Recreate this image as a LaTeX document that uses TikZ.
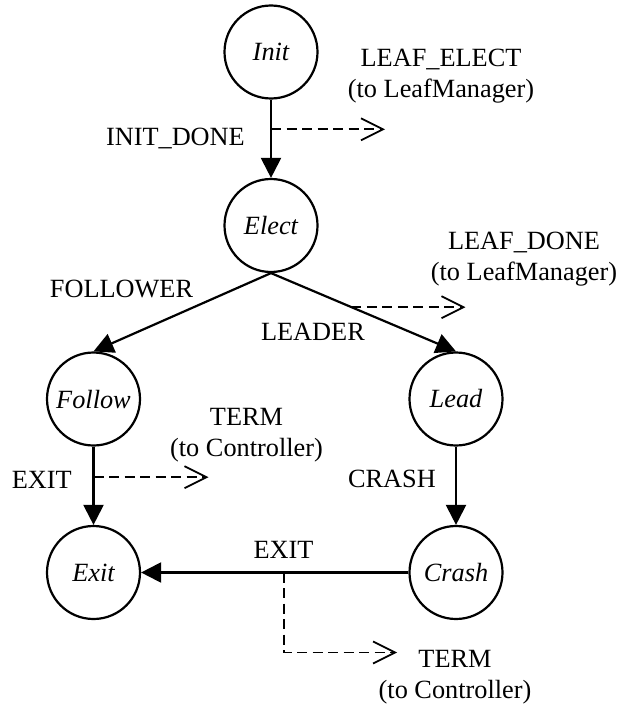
\documentclass[tikz,border=0pt]{standalone}
\usepackage{fontspec}
\setmainfont{Liberation Serif}
\usetikzlibrary{arrows.meta}
\begin{document}
\begin{tikzpicture}[x=1pt,y=-1pt,
  txt/.style={inner sep=0pt, font=\fontsize{26.3}{31}\selectfont},
  state/.style={draw, circle, line width=2.2pt, minimum size=93pt, inner sep=0pt,
                font=\fontsize{26.3}{31}\selectfont\itshape},
  trans/.style={line width=2.2pt, -{Triangle[length=20pt,width=20pt]}},
  notify/.style={line width=1.8pt, dash pattern=on 10pt off 5.5pt,
                 -{Straight Barb[length=22pt,width=22pt]}}]
\useasboundingbox (0,0) rectangle (621,706);

% states
\node[state] (init)   at (271,52)     {Init};
\node[state] (elect)  at (271,225.5)  {Elect};
\node[state] (follow) at (93.5,399)   {Follow};
\node[state] (lead)   at (456,399)    {Lead};
\node[state] (exit)   at (93.5,572.5) {Exit};
\node[state] (crash)  at (456,572.5)  {Crash};

% transitions
\draw[trans] (init) -- coordinate[pos=0.379] (tapA) (elect);
\draw[trans] (elect.south) -- (follow.north);
\draw[trans] (elect.south) -- coordinate[pos=0.435] (tapB) (lead.north);
\draw[trans] (follow) -- coordinate[pos=0.39] (tapC) (exit);
\draw[trans] (lead) -- (crash);
\draw[trans] (crash) -- coordinate[pos=0.465] (tapD) (exit);

% messages sent to other components
\draw[notify] (tapA) -- ++(114,0) coordinate (sinkA);
\draw[notify] (tapB) -- ++(114,0) coordinate (sinkB);
\draw[notify] (tapC) -- ++(115,0) coordinate (sinkC);
\draw[notify] (tapD) |- ++(113,80) coordinate (sinkD);

% transition labels
\node[txt, anchor=base east] (lInitDone) at (245,145) {INIT\_DONE};
\node[txt, anchor=base] (lFollower) at (121.5,297) {FOLLOWER};
\node[txt, anchor=base east] (lLeader) at (365,340) {LEADER};
\node[txt, anchor=base east] (lExitA) at (72,488) {EXIT};
\node[txt, anchor=base east] (lCrash) at (436,487) {CRASH};
\node[txt, anchor=base] (lExitB) at (283.5,558) {EXIT};

% message labels
\node[txt, anchor=base] (lLeafElect) at (441,67)
  {\begin{tabular}[t]{@{}c@{}}LEAF\_ELECT\\(to LeafManager)\end{tabular}};
\node[txt, anchor=base] (lLeafDone) at (524,249)
  {\begin{tabular}[t]{@{}c@{}}LEAF\_DONE\\(to LeafManager)\end{tabular}};
\node[txt, anchor=base] (lTermA) at (246.5,425)
  {\begin{tabular}[t]{@{}c@{}}TERM\\(to Controller)\end{tabular}};
\node[txt, anchor=base] (lTermB) at (455,667)
  {\begin{tabular}[t]{@{}c@{}}TERM\\(to Controller)\end{tabular}};
\end{tikzpicture}
\end{document}
